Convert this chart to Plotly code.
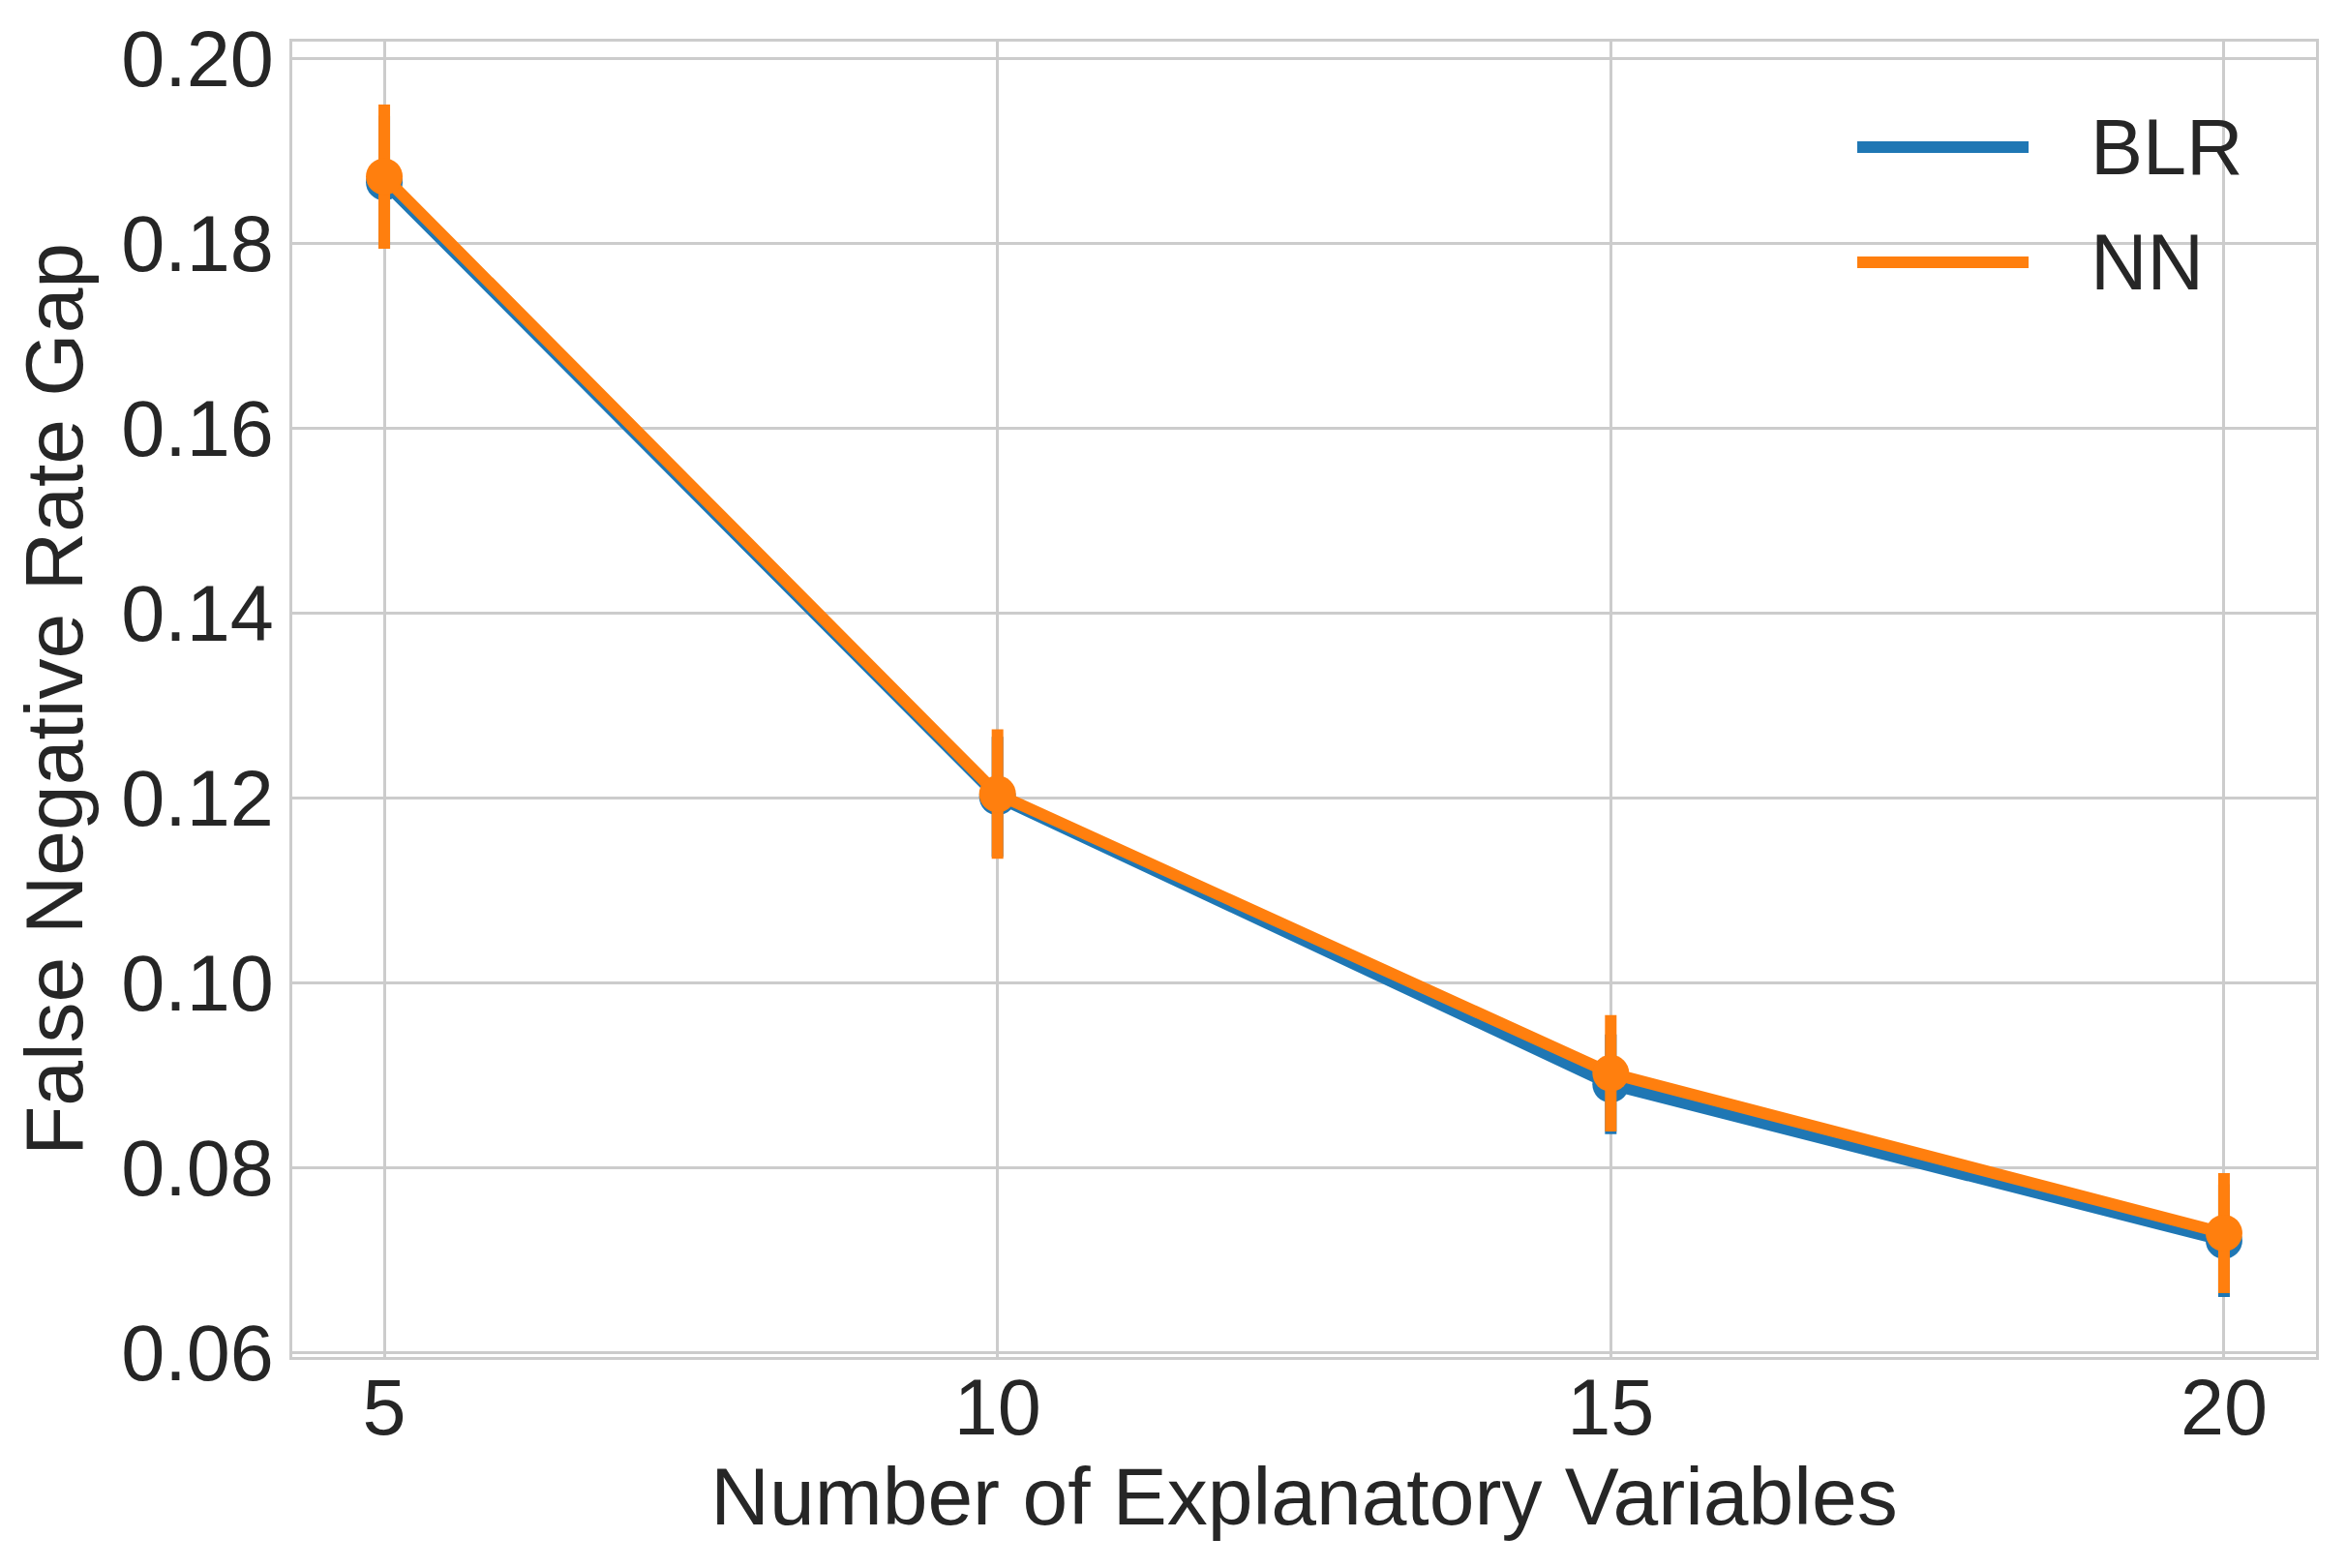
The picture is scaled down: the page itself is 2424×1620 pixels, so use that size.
import plotly.graph_objects as go

# ---- data ----
num_vars = [5, 10, 15, 20]
blr_mean = [0.1866, 0.1201, 0.0890, 0.0721]
blr_err = [0.0072, 0.0065, 0.0054, 0.0061]
nn_mean = [0.1872, 0.1204, 0.0902, 0.0729]
nn_err = [0.0078, 0.0070, 0.0063, 0.0065]
series_names = ["BLR", "NN"]
series_colors = ["#1f77b4", "#ff7f0e"]
x_ticks = [5, 10, 15, 20]
y_ticks = [0.06, 0.08, 0.10, 0.12, 0.14, 0.16, 0.18, 0.20]
y_tick_text = ["0.06", "0.08", "0.10", "0.12", "0.14", "0.16", "0.18", "0.20"]

FONT = "Liberation Sans, Arial, sans-serif"
TXT = "#262626"
GRID = "#cccccc"
FS = 81
FS_TITLE = 84

fig = go.Figure()
for name, mean, err, col in zip(series_names, [blr_mean, nn_mean], [blr_err, nn_err], series_colors):
    fig.add_trace(go.Scatter(
        x=num_vars, y=mean, name=name, mode="lines+markers",
        line=dict(color=col, width=12),
        marker=dict(color=col, size=38, line=dict(width=0)),
        error_y=dict(type="data", array=err, visible=True, color=col, thickness=12, width=0),
        showlegend=False,
    ))

W, H = 2424, 1620
# page body has an 8px offset; margins compensate so the axes land where the reference has them
OFF = 8
ml, mr, mt, mb = 302 - OFF, 31 + OFF, 43 - OFF, 218 + OFF

axis_common = dict(
    showgrid=True, gridcolor=GRID, gridwidth=3,
    showline=True, linecolor=GRID, linewidth=3, mirror=True,
    zeroline=False,
    ticks="",
    tickfont=dict(family=FONT, size=FS, color=TXT),
)

fig.update_layout(
    width=W, height=H,
    margin=dict(l=ml, r=mr, t=mt, b=mb, autoexpand=False),
    paper_bgcolor="white", plot_bgcolor="white",
    font=dict(family=FONT, size=FS, color=TXT),
    xaxis=dict(range=[4.25, 20.75], tickvals=x_ticks, ticktext=[str(v) for v in x_ticks],
               ticklabelstandoff=-20,
               title=dict(text="Number of Explanatory Variables", font=dict(family=FONT, size=FS_TITLE, color=TXT), standoff=18),
               automargin=False, **axis_common),
    yaxis=dict(range=[0.0595, 0.2018], tickvals=y_ticks, ticktext=y_tick_text,
               ticklabelstandoff=0,
               title=dict(text="False Negative Rate Gap", font=dict(family=FONT, size=FS_TITLE, color=TXT), standoff=12),
               automargin=False, **axis_common),
    showlegend=False,
)

# manual legend (long line handles like matplotlib); positions in page pixels
pw = W - ml - mr
ph = H - mt - mb
def px_x(p):
    return (p - OFF - ml) / pw
def px_y(p):
    return (H - mb - (p - OFF)) / ph

legend_rows_px = [152, 271]
for name, col, ypx in zip(series_names, series_colors, legend_rows_px):
    fig.add_shape(type="line", xref="paper", yref="paper",
                  x0=px_x(1919), x1=px_x(2096), y0=px_y(ypx), y1=px_y(ypx),
                  line=dict(color=col, width=12))
    fig.add_annotation(xref="paper", yref="paper", x=px_x(2158), y=px_y(ypx),
                       text=name, showarrow=False, xanchor="left", yanchor="middle",
                       font=dict(family=FONT, size=FS, color=TXT))

fig.write_html("out.html")
